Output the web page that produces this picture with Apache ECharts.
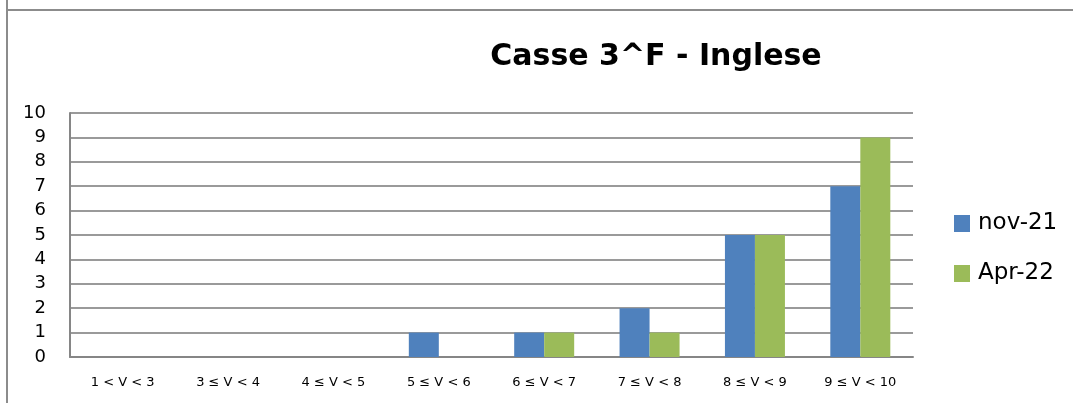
<!DOCTYPE html>
<html><head><meta charset="utf-8">
<script src="https://cdn.jsdelivr.net/npm/echarts@6/dist/echarts.min.js"></script>
<style>html,body{margin:0;padding:0;background:#fff}#c{width:1073px;height:403px}</style>
</head><body><div id="c"></div>
<script>
const categories = ['1 < V < 3','3 ≤ V < 4','4 ≤ V < 5','5 ≤ V < 6','6 ≤ V < 7','7 ≤ V < 8','8 ≤ V < 9','9 ≤ V < 10'];
const nov21 = [0,0,0,1,1,2,5,7];
const apr22 = [0,0,0,0,1,1,5,9];
const seriesNames = ['nov-21','Apr-22'];
const FONT = '"DejaVu Sans", sans-serif';
const chart = echarts.init(document.getElementById('c'));
chart.setOption({
  animation:false,
  textStyle:{fontFamily:FONT},
  title:{text:'Casse 3^F - Inglese',left:651,top:37,textAlign:'center',
    textStyle:{fontFamily:FONT,fontSize:30,fontWeight:'bold',color:'#000'}},
  legend:{orient:'vertical',left:954,top:212,padding:0,itemWidth:16,itemHeight:17,itemGap:27,
    icon:'rect',textStyle:{fontSize:23,color:'#000',fontFamily:FONT,padding:[0,0,0,3]},data:seriesNames},
  graphic:[
    {type:'line',shape:{x1:7,y1:10,x2:1073,y2:10},style:{stroke:'#8c8c8c',lineWidth:2}},
    {type:'line',shape:{x1:7,y1:0,x2:7,y2:403},style:{stroke:'#8c8c8c',lineWidth:2}}
  ],
  grid:{left:70,right:160,top:113,bottom:46},
  xAxis:{type:'category',data:categories,
    axisLine:{lineStyle:{color:'#868686',width:2}},axisTick:{show:false},
    axisLabel:{color:'#000',fontSize:13,margin:19,interval:0}},
  yAxis:{type:'value',min:0,max:10,interval:1,
    axisLine:{show:true,lineStyle:{color:'#868686',width:2}},axisTick:{show:false},
    splitLine:{lineStyle:{color:'#9a9a9a',width:2}},
    axisLabel:{color:'#000',fontSize:18,margin:24,align:'right'}},
  series:[
    {name:seriesNames[0],type:'bar',data:nov21,itemStyle:{color:'#4F81BD'},barWidth:30,barGap:'0%'},
    {name:seriesNames[1],type:'bar',data:apr22,itemStyle:{color:'#9BBB59'},barWidth:30,barGap:'0%'}
  ]
});
</script></body></html>
